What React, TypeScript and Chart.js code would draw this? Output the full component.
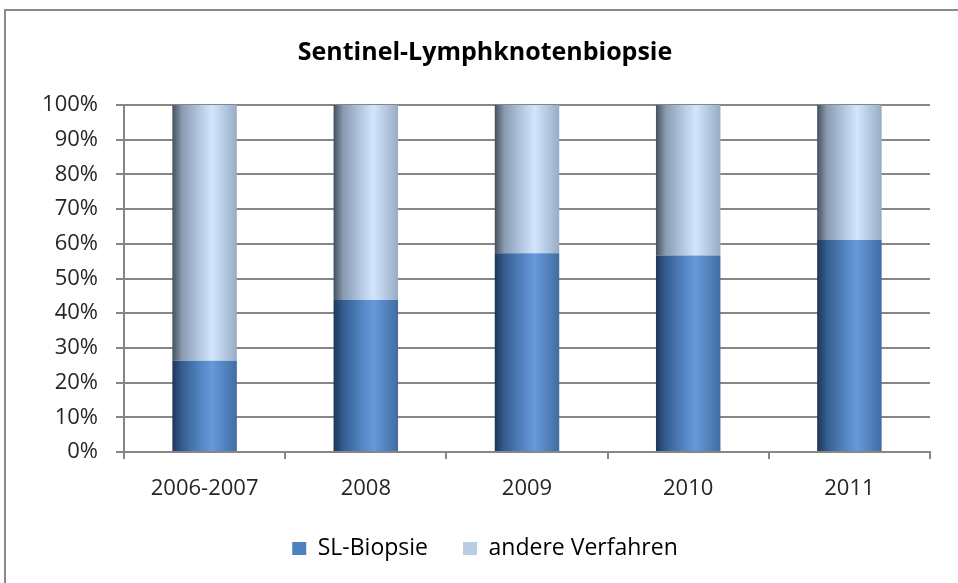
import React, { useEffect, useRef } from "react";
import { Chart, registerables } from "chart.js";

Chart.register(...registerables);

const categories = ["2006-2007", "2008", "2009", "2010", "2011"];
const slBiopsie = [26.3, 43.8, 57.3, 56.6, 61.1];
const andereVerfahren = [73.7, 56.2, 42.7, 43.4, 38.9];
const yTicks = [0, 10, 20, 30, 40, 50, 60, 70, 80, 90, 100];

const BAR_PCT = 0.4;
const FONT = "Open Sans";

function makeGradient(ctx: any, stops: [number, string][]) {
  const chart = ctx.chart;
  const xs = chart.scales && chart.scales.x;
  if (!xs || xs.left === undefined) return stops[1][1];
  const center = xs.getPixelForValue(ctx.dataIndex);
  const catW = (xs.right - xs.left) / categories.length;
  const w = catW * BAR_PCT;
  const g = chart.ctx.createLinearGradient(center - w / 2, 0, center + w / 2, 0);
  stops.forEach(([o, c]) => g.addColorStop(o, c));
  return g;
}

const slStops: [number, string][] = [
  [0, "#1e3656"],
  [0.15, "#345d90"],
  [0.45, "#5587c4"],
  [0.62, "#6699d8"],
  [0.85, "#4f7fb9"],
  [1, "#3f6ca3"],
];
const andereStops: [number, string][] = [
  [0, "#45505e"],
  [0.15, "#8a9bb0"],
  [0.45, "#b8cde6"],
  [0.62, "#d2e5fc"],
  [0.85, "#aec3dc"],
  [1, "#97abc4"],
];

export default function App() {
  const ref = useRef<HTMLCanvasElement | null>(null);
  useEffect(() => {
    if (!ref.current) return;
    const chart = new Chart(ref.current, {
      type: "bar",
      data: {
        labels: categories,
        datasets: [
          {
            label: "SL-Biopsie",
            data: slBiopsie,
            backgroundColor: (ctx: any) => makeGradient(ctx, slStops),
            borderWidth: 0,
            barPercentage: BAR_PCT,
            categoryPercentage: 1,
          },
          {
            label: "andere Verfahren",
            data: andereVerfahren,
            backgroundColor: (ctx: any) => makeGradient(ctx, andereStops),
            borderWidth: 0,
            barPercentage: BAR_PCT,
            categoryPercentage: 1,
          },
        ],
      },
      options: {
        animation: false,
        responsive: false,
        maintainAspectRatio: false,
        layout: { padding: { left: 40, right: 28, top: 0, bottom: 13 } },
        plugins: {
          tooltip: { enabled: false },
          title: {
            display: true,
            text: "Sentinel-Lymphknotenbiopsie",
            color: "#000000",
            font: { family: FONT, size: 25, weight: "bold" },
            padding: { top: 37.5, bottom: 37.5 },
          },
          legend: {
            position: "bottom",
            labels: {
              color: "#262626",
              font: { family: FONT, size: 23 },
              boxWidth: 14,
              boxHeight: 13,
              padding: 35,
              generateLabels: () => [
                { text: "SL-Biopsie", fillStyle: "#4f81bd", strokeStyle: "#4f81bd", lineWidth: 0, datasetIndex: 0 },
                { text: "andere Verfahren", fillStyle: "#b9cde5", strokeStyle: "#b9cde5", lineWidth: 0, datasetIndex: 1 },
              ] as any,
            },
          },
        },
        scales: {
          x: {
            stacked: true,
            grid: {
              display: true,
              drawOnChartArea: false,
              drawTicks: true,
              tickLength: 7,
              color: "#868686",
              lineWidth: 2,
              offset: true,
            },
            border: { display: true, color: "#868686", width: 2 },
            ticks: {
              color: "#262626",
              font: { family: FONT, size: 22 },
              padding: 17,
            },
            afterFit: (s: any) => {
              s.height = 50;
            },
          },
          y: {
            stacked: true,
            min: 0,
            max: 100,
            afterBuildTicks: (s: any) => {
              s.ticks = yTicks.map((v) => ({ value: v }));
            },
            grid: {
              color: "#868686",
              lineWidth: 2,
              drawTicks: true,
              tickLength: 8,
            },
            border: { display: true, color: "#868686", width: 2 },
            ticks: {
              color: "#262626",
              font: { family: FONT, size: 22 },
              padding: 18,
              callback: (v: any) => v + "%",
            },
            afterFit: (s: any) => {
              s.width = 84;
            },
          },
        },
      },
    });
    return () => chart.destroy();
  }, []);

  return (
    <div style={{ position: "fixed", left: 0, top: 0, width: 958, height: 583, background: "#fff", overflow: "hidden" }}>
      <div
        style={{
          position: "absolute",
          left: 4,
          top: 9,
          width: 1100,
          height: 800,
          border: "2px solid #8c8c8c",
          boxSizing: "border-box",
        }}
      />
      <canvas ref={ref} width={958} height={583} style={{ position: "absolute", left: 0, top: 0 }} />
    </div>
  );
}
